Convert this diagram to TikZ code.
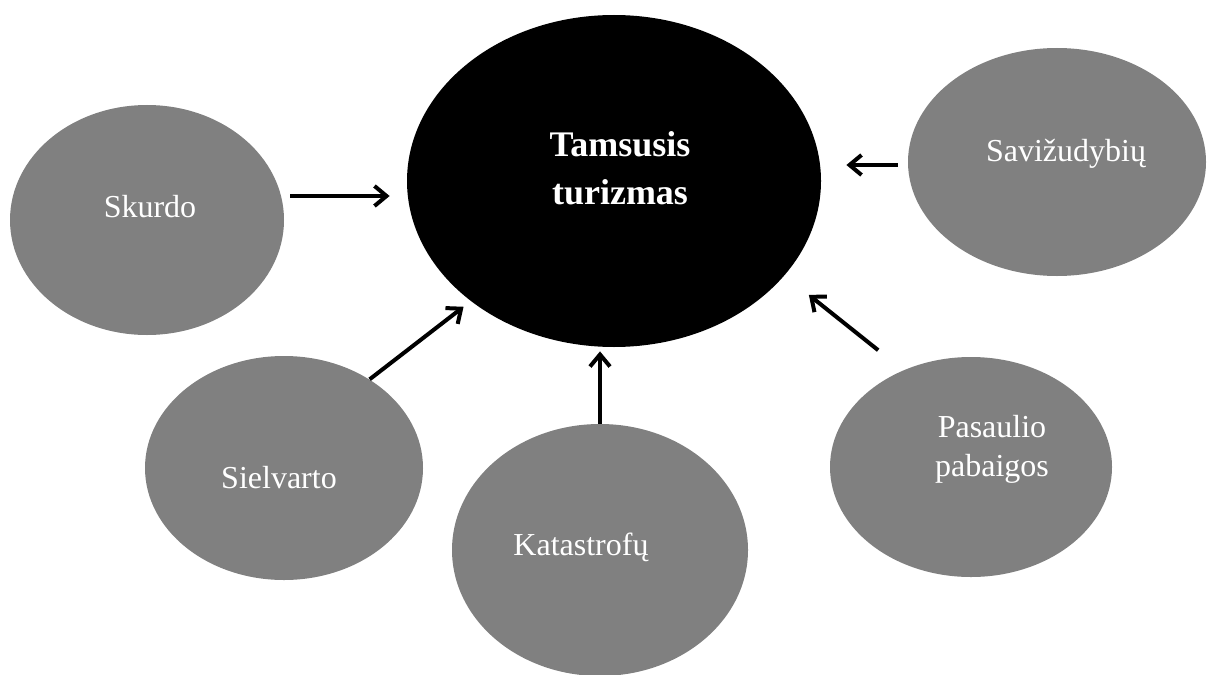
\documentclass[tikz,border=0pt]{standalone}
\usepackage{fontspec}
\setmainfont{Liberation Serif}
\usetikzlibrary{arrows.meta,shapes.geometric}
\definecolor{bubblegray}{HTML}{808080}
\tikzset{
  bubble/.style={ellipse,draw=none,fill=bubblegray,inner sep=0pt},
  bubbletext/.style={text=white,align=center,font=\fontsize{16}{19.5}\selectfont},
  flow/.style={-{Straight Barb[length=6pt,width=10pt]},draw=black,line width=2pt}
}

\begin{document}
\begin{tikzpicture}[
  x=0.5pt,y=-0.5pt,
  core/.style={ellipse,draw=none,fill=black,inner sep=0pt},
  coretext/.style={text=white,align=center,font=\bfseries\fontsize{18}{24}\selectfont}
]
  \useasboundingbox (0,0) rectangle (1208,674);
  % centre
  \node[core,minimum width=207pt,minimum height=166pt] (ct) at (614,181) {};
  \node[coretext] (ct-text) at (620,168) {Tamsusis\\turizmas};
  % causes
  \node[bubble,minimum width=137pt,minimum height=115pt] (sk) at (147,220) {};
  \node[bubbletext] (sk-text) at (150,207) {Skurdo};
  \node[bubble,minimum width=149pt,minimum height=114pt] (sv) at (1057,162) {};
  \node[bubbletext] (sv-text) at (1066,154) {Savižudybių};
  \node[bubble,minimum width=139pt,minimum height=112pt] (si) at (284,468) {};
  \node[bubbletext] (si-text) at (279,478) {Sielvarto};
  \node[bubble,minimum width=148pt,minimum height=126pt] (kt) at (600,550) {};
  \node[bubbletext] (kt-text) at (581,547) {Katastrofų};
  \node[bubble,minimum width=141pt,minimum height=110pt] (ps) at (971,467) {};
  \node[bubbletext] (ps-text) at (992,449) {Pasaulio\\pabaigos};
  % arrows into the centre
  \draw[flow,shorten <=3pt,shorten >=8.5pt] ([yshift=12pt]sk.east) -- ([yshift=12pt]sk.east -| ct.west);
  \draw[flow,shorten <=5pt,shorten >=12.5pt] ([yshift=-1.5pt]sv.west) -- ([yshift=-1.5pt]sv.west -| ct.east);
  \draw[flow,shorten >=4.5pt] (si.46) -- (ct.220);
  \draw[flow,shorten >=2pt] (kt.north) -- (kt.north |- ct.south);
  \draw[flow,shorten <=16pt,shorten >=15.5pt] (ps.125) -- (ct.-29);
\end{tikzpicture}
\end{document}
